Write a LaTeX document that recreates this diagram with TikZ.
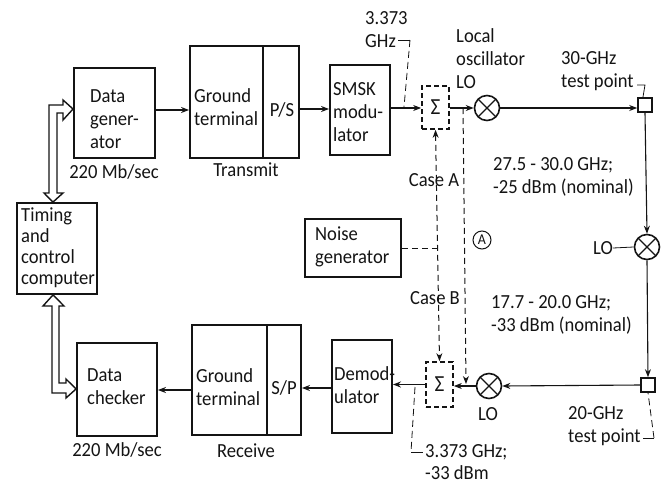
\documentclass[tikz,border=0pt]{standalone}
\usepackage{fontspec}
\setmainfont[FakeStretch=0.93]{Carlito}
\usetikzlibrary{arrows.meta,calc}
\definecolor{ink}{gray}{0.08}
\tikzset{
  x=1pt,y=-1pt,
  every node/.style={text=ink},
  boxn/.style={draw=ink,line width=1.9pt,inner sep=0pt},
  sumn/.style={draw=ink,line width=1.7pt,dash pattern=on 5pt off 3pt,inner sep=0pt,font=\fontsize{23}{25}\selectfont},
  mixn/.style={draw=ink,line width=1.6pt,circle,minimum size=25pt,inner sep=0pt,path picture={
     \draw[ink,line width=1.2pt] (path picture bounding box.north west)--(path picture bounding box.south east)
       (path picture bounding box.north east)--(path picture bounding box.south west);}},
  tpn/.style={draw=ink,line width=1.6pt,minimum size=14pt,inner sep=0pt},
  lbl/.style={anchor=west,align=left,inner sep=0pt,font=\fontsize{20}{23}\selectfont},
  ctr/.style={anchor=center,align=center,inner sep=0pt,font=\fontsize{20}{23}\selectfont},
  wire/.style={draw=ink,line width=1.1pt},
  arr/.style={wire,-{Stealth[length=8pt,width=6pt]}},
  dline/.style={draw=ink,line width=1pt,dash pattern=on 6pt off 4pt},
  darr/.style={dline,{Stealth[length=8pt,width=6pt]}-{Stealth[length=8pt,width=6pt]}},
  dend/.style={dline,-{Stealth[length=8pt,width=6pt]}},
  lead/.style={draw=ink,line width=.8pt},
  bus/.style={draw=ink,line width=1.4pt,fill=white,line join=miter},
}
\newcommand{\bx}[6]{\node[boxn,minimum width=#4-#2,minimum height=#5-#3] (#1) at ({(#2+#4)/2},{(#3+#5)/2}) {#6};}
\begin{document}
\begin{tikzpicture}
\useasboundingbox[fill=white] (0,0) rectangle (667,485);
% boxes
\bx{dg}{74}{68}{155}{158}{}
\bx{gt}{190}{46}{299}{158}{}
\bx{sm}{330}{65}{390}{155}{}
\bx{tc}{17}{203}{97}{294}{}
\bx{ng}{305}{219}{401}{277}{}
\bx{dc}{77}{343}{157}{436}{}
\bx{gr}{192}{325}{301}{435}{}
\bx{dm}{332}{340}{392}{433}{}
\coordinate (gta) at (263,46); \coordinate (gtb) at (263,158);
\coordinate (gra) at (267,325); \coordinate (grb) at (267,435);
\draw[draw=ink,line width=1.9pt] (gta)--(gtb) (gra)--(grb);
% text in boxes
\node[lbl] (t1) at (90,119) {Data\\gener-\\ator};
\node[lbl] (t2) at (194,107) {Ground\\terminal};
\node[ctr] (t3) at (282,110) {P/S};
\node[lbl] (t4) at (333,112) {SMSK\\modu-\\lator};
\node[lbl,font=\fontsize{20}{21}\selectfont] (t5) at (21,248) {Timing\\and\\control\\computer};
\node[lbl] (t6) at (315,247) {Noise\\generator};
\node[lbl] (t7) at (87,387) {Data\\checker};
\node[lbl] (t8) at (196,387) {Ground\\terminal};
\node[ctr] (t9) at (284,388) {S/P};
\node[lbl] (t10) at (334,385) {Demod-\\ulator};
% captions
\node[ctr] (c1) at (114,172) {220 Mb/sec};
\node[ctr] (c2) at (246,170) {Transmit};
\node[ctr] (c3) at (117,450) {220 Mb/sec};
\node[ctr] (c4) at (246,451) {Receive};
% signal elements
\node[sumn,minimum width=27pt,minimum height=43pt] (s1) at (435.5,107.5) {Σ};
\node[sumn,minimum width=27pt,minimum height=45pt] (s2) at (439.5,384.5) {Σ};
\node[mixn] (m1) at (487,108) {};
\node[mixn] (m2) at (647,247) {};
\node[mixn] (m3) at (489,386) {};
\node[tpn] (p1) at (645,105) {};
\node[tpn] (p2) at (648,385) {};
% solid connectors
\coordinate (r1) at (0,110); \coordinate (r2) at (0,109); \coordinate (r3) at (0,108);
\coordinate (r4) at (0,386); \coordinate (r5) at (0,388); \coordinate (r6) at (0,390);
\draw[arr] (dg.east|-r1) -- (gt.west|-r1);
\draw[arr] (gt.east|-r2) -- (sm.west|-r2);
\draw[arr] (sm.east|-r3) -- (s1.west|-r3);
\draw[arr] (s1.east|-r3) -- (m1.west);
\draw[arr] (m1.east) -- (p1.west|-m1);
\draw[arr] (p1.south) -- (m2.north);
\draw[arr] (m2.south) -- (p2.north);
\draw[arr] (p2.west) -- (m3.east);
\draw[arr] (m3.west) -- (s2.east|-m3);
\draw[arr] (s2.west) -- (dm.east|-s2);
\draw[arr] (dm.west|-r5) -- (gr.east|-r5);
\draw[arr] (gr.west|-r6) -- (dc.east|-r6);
% dashed connectors
\coordinate (n1) at (437,248);
\draw[dline] (ng.east|-n1) -- (n1);
\draw[darr] (s1.south) -- (s2.north);
\coordinate (j1) at (463,108); \coordinate (j2) at (466,384);
\draw[dend] (j1) -- (j2);
% labels
\node[ctr] (la) at (434,180) {Case A};
\node[ctr] (lb) at (435,298) {Case B};
\node[draw=ink,circle,line width=1pt,minimum size=18pt,inner sep=0pt,font=\fontsize{15}{16}\selectfont] (ca) at (482,240) {A};
\node[lbl] (f1) at (365,30) {3.373\\GHz};
\node[lbl] (f2) at (456,59) {Local\\oscillator\\LO};
\node[lbl] (f3) at (561,71) {30-GHz\\test point};
\node[lbl] (f4) at (493,177) {27.5 - 30.0 GHz;\\-25 dBm (nominal)};
\node[lbl] (f5) at (491,315) {17.7 - 20.0 GHz;\\-33 dBm (nominal)};
\node[ctr] (f6) at (603,248) {LO};
\node[ctr] (f7) at (488,414) {LO};
\node[lbl] (f8) at (568,426) {20-GHz\\test point};
\node[lbl,font=\fontsize{20}{22}\selectfont] (f9) at (425,462) {3.373 GHz;\\-33 dBm};
\draw[lead] (f6.east) -- (m2.west);
% leaders
\coordinate (a1) at (398,40); \coordinate (a2) at (410,40); \coordinate (a3) at (404,107);
\draw[lead] (a1) -- (a2);
\draw[lead,dash pattern=on 7pt off 4pt] (a2) -- (a3);
\coordinate (b1) at (637,85); \coordinate (b2) at (645,85); \coordinate (b3) at (643,97);
\draw[lead] (b1) -- (b2) -- (b3);
\coordinate (d1) at (643,438); \coordinate (d2) at (654,438);
\draw[lead] (d1) -- (d2);
\draw[lead,dash pattern=on 7pt off 4pt] (d2) -- (p2.south);
\coordinate (e1) at (415,387); \coordinate (e2) at (411,452); \coordinate (e3) at (423,452);
\draw[lead,dash pattern=on 7pt off 4pt] (e1) -- (e2);
\draw[lead] (e2) -- (e3);
% double bus arrows
\draw[bus] (49,193) -- (44,193) -- (tc.north-|53,0) -- (63,193) -- (57,193) -- (57,113) -- (63,113) -- (63,120) -- (dg.west|-0,109) -- (63,100) -- (63,105) -- (49,105) -- cycle;
\draw[bus] (52,306) -- (43,306) -- (tc.south-|53,0) -- (64,306) -- (59,306) -- (59,383) -- (66,383) -- (66,379) -- (dc.west|-0,389) -- (66,398) -- (66,393) -- (52,393) -- cycle;
\end{tikzpicture}
\end{document}
